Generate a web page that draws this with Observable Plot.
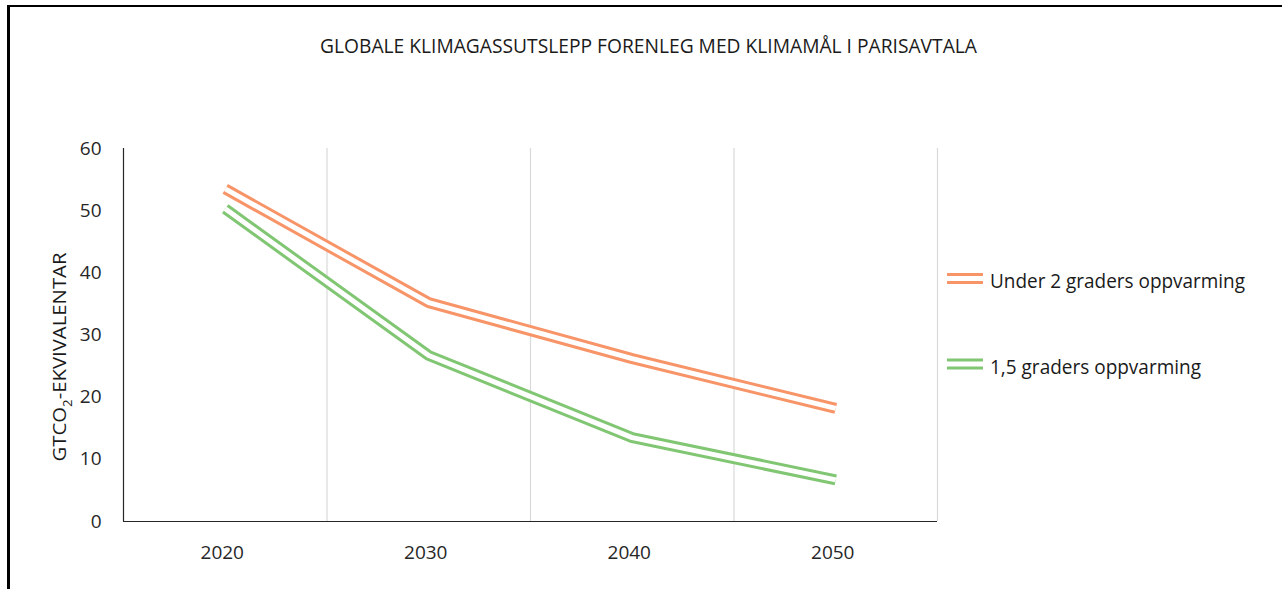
<!DOCTYPE html>
<html><head><meta charset="utf-8">
<script src="https://cdn.jsdelivr.net/npm/d3@7"></script>
<script src="https://cdn.jsdelivr.net/npm/@observablehq/plot@0.6"></script>
<style>
body{margin:0;background:#fff;}
#wrap{position:relative;width:1282px;height:589px;overflow:hidden;font-family:"Open Sans",sans-serif;background:#fff;}
#frame{position:absolute;left:7px;top:5px;width:1300px;height:620px;border-top:2px solid #000;border-left:3px solid #000;}
#chart{position:absolute;left:0;top:0;}
#overlay{position:absolute;left:0;top:0;}
</style></head><body>
<div id="wrap"><div id="frame"></div><div id="chart"></div><svg id="overlay" width="1282" height="589"></svg></div>
<script>
const years = [2020, 2030, 2040, 2050];
const under2 = [53.5, 35.2, 26.2, 18.2];
const under15 = [50.3, 26.7, 13.5, 6.7];
const seriesNames = ["Under 2 graders oppvarming", "1,5 graders oppvarming"];
const seriesColors = ["#F79468", "#80C673"];
const yTicks = [0, 10, 20, 30, 40, 50, 60];
const gridYears = [2025, 2035, 2045, 2055];
const xDomain = [2015, 2055];
const yDomain = [0, 60];
const title = "GLOBALE KLIMAGASSUTSLEPP FORENLEG MED KLIMAMÅL I PARISAVTALA";
const yLabelMain = "GTCO";
const yLabelSub = "2";
const yLabelRest = "-EKVIVALENTAR";

const seriesValues = [under2, under15];
const rows = [];
seriesNames.forEach((s, si) => years.forEach((yr, i) => rows.push({year: yr, value: seriesValues[si][i], series: s})));

const lineMarks = seriesNames.flatMap(s => {
  const d = rows.filter(r => r.series === s);
  return [
    Plot.line(d, {x: "year", y: "value", stroke: "series", strokeWidth: 11, strokeLinecap: "butt", strokeLinejoin: "miter"}),
    Plot.line(d, {x: "year", y: "value", stroke: "white", strokeWidth: 5, strokeLinecap: "butt", strokeLinejoin: "miter"})
  ];
});

const plot = Plot.plot({
  width: 1282, height: 589,
  marginTop: 148, marginBottom: 68, marginLeft: 123, marginRight: 345,
  style: {fontFamily: "'Open Sans', sans-serif", fontSize: "19px", color: "#262626", background: "transparent"},
  x: {domain: xDomain},
  y: {domain: yDomain},
  color: {domain: seriesNames, range: seriesColors},
  marks: [
    Plot.ruleX(gridYears, {y1: yDomain[0], y2: yDomain[1], stroke: "#d9d9d9", strokeWidth: 1.2}),
    Plot.ruleX([xDomain[0]], {y1: yDomain[0], y2: yDomain[1], stroke: "#262626", strokeWidth: 1.2}),
    Plot.ruleY([0], {stroke: "#262626", strokeWidth: 1.2}),
    ...lineMarks,
    Plot.axisX({ticks: years, tickFormat: d => String(d), tickSize: 0, tickPadding: 24, dx: -3, label: null}),
    Plot.axisY({ticks: yTicks, tickSize: 0, tickPadding: 22, label: null})
  ]
});
document.getElementById("chart").appendChild(plot);

// Title, y label and legend as text overlay
const ov = d3.select("#overlay");
ov.append("text").attr("x", 648.5).attr("y", 53).attr("text-anchor", "middle")
  .attr("font-family", "'Open Sans', sans-serif").attr("font-size", 19.5).attr("fill", "#1a1a1a")
  .attr("textLength", 657).attr("lengthAdjust", "spacingAndGlyphs").text(title);

const yl = ov.append("text").attr("transform", "translate(65.5,357) rotate(-90)").attr("text-anchor", "middle")
  .attr("font-family", "'Open Sans', sans-serif").attr("font-size", 18.5).attr("fill", "#1a1a1a")
  .attr("textLength", 209).attr("lengthAdjust", "spacingAndGlyphs");
yl.append("tspan").text(yLabelMain);
yl.append("tspan").attr("font-size", 12).attr("dy", 6).text(yLabelSub);
yl.append("tspan").attr("dy", -6).text(yLabelRest);

const legendY = [278.5, 364];
const legendLen = [255, 211];
seriesNames.forEach((s, i) => {
  const g = ov.append("g");
  g.append("line").attr("x1", 947).attr("x2", 983).attr("y1", legendY[i]).attr("y2", legendY[i])
    .attr("stroke", seriesColors[i]).attr("stroke-width", 11);
  g.append("line").attr("x1", 946).attr("x2", 984).attr("y1", legendY[i]).attr("y2", legendY[i])
    .attr("stroke", "white").attr("stroke-width", 5);
  g.append("text").attr("x", 990).attr("y", legendY[i] + 9.5)
    .attr("font-family", "'Open Sans', sans-serif").attr("font-size", 20).attr("fill", "#1a1a1a")
    .attr("textLength", legendLen[i]).attr("lengthAdjust", "spacingAndGlyphs").text(s);
});
</script>
</body></html>
